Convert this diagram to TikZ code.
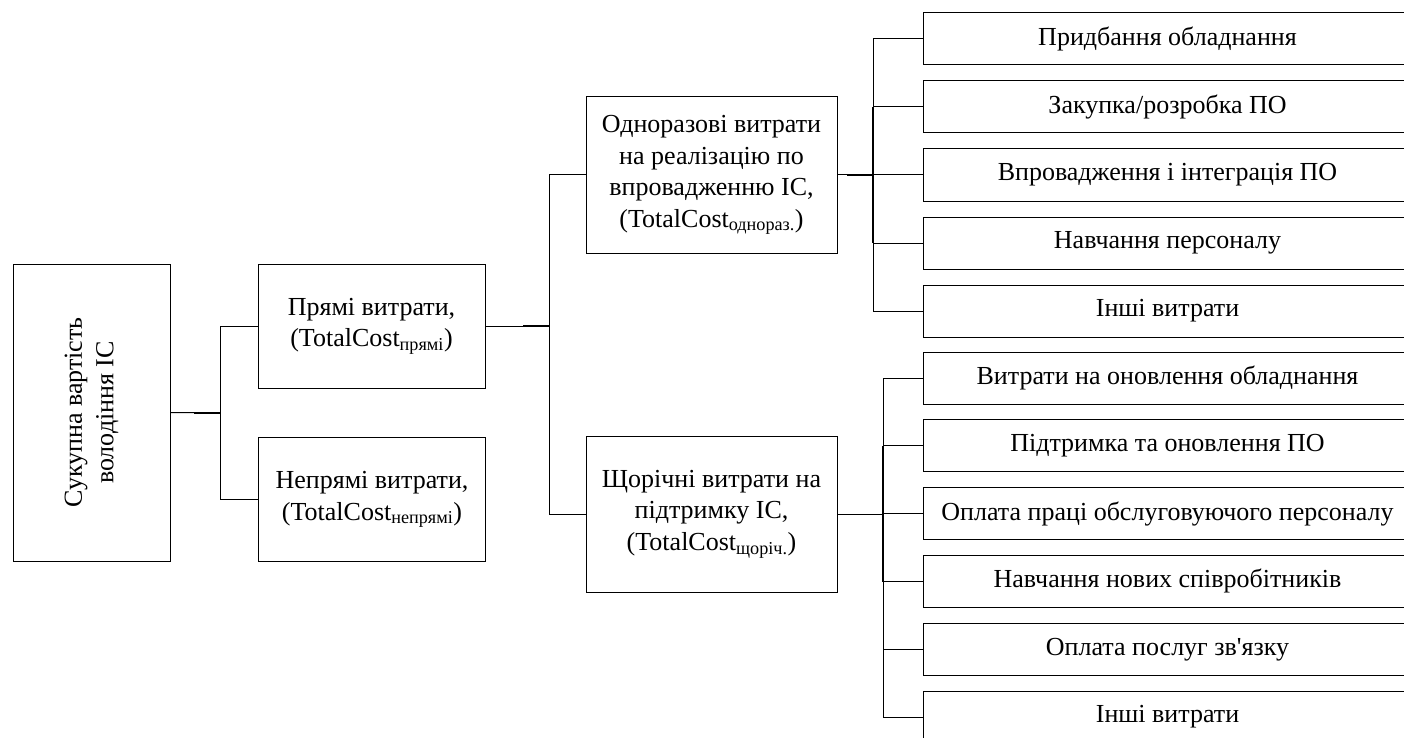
\documentclass[tikz,border=0pt]{standalone}
\usepackage{fontspec}
\setmainfont{Liberation Serif}
\usetikzlibrary{calc}

\begin{document}
\begin{tikzpicture}[x=1pt,y=-1pt,line width=1pt,
  box/.style={draw, align=center, inner sep=2pt, font=\fontsize{26}{31.5}\selectfont},
  leaf/.style={box, minimum width=489pt, minimum height=52pt},
  midbox/.style={box, minimum width=251pt, minimum height=156pt},
  costbox/.style={box, minimum width=227pt, minimum height=124pt},
  jnt/.style={line width=1.8pt}]
  \useasboundingbox (0,0) rectangle (1404,738);
  % Define nodes
  \node[box, rotate=90, minimum width=297pt, minimum height=157pt] (root) at (91.5,412.5) {Сукупна вартість\\володіння ІС};
  \node[costbox] (pryami) at (371.5,326) {Прямі витрати,\\(TotalCost\textsubscript{прямі})};
  \node[costbox] (nepryami) at (372,499.5) {Непрямі витрати,\\(TotalCost\textsubscript{непрямі})};
  \node[midbox] (odnoraz) at (711.5,175) {Одноразові витрати\\на реалізацію по\\впровадженню ІС,\\(TotalCost\textsubscript{однораз.})};
  \node[midbox] (shchorich) at (711.5,514) {Щорічні витрати на\\підтримку ІС,\\(TotalCost\textsubscript{щоріч.})};
  \foreach \name [count=\i] in {Придбання обладнання, Закупка/розробка ПО, Впровадження і інтеграція ПО, Навчання персоналу, Інші витрати}
    \node[leaf] (a\i) at (1167.5,{39+68*(\i-1)}) {\name};
  \foreach \name [count=\i] in {Витрати на оновлення обладнання, Підтримка та оновлення ПО, Оплата праці обслуговуючого персоналу, Навчання нових співробітників, Оплата послуг зв\textquotesingle{}язку, Інші витрати}
    \node[leaf] (c\i) at (1167.5,{378+67.8*(\i-1)}) {\name};

  % Branch points
  \coordinate (b1) at (220,413);
  \coordinate (b2) at (549,326);
  \coordinate (b3) at (873,175);
  \coordinate (b4) at (883,514);

  % Draw connectors
  \draw (root.south) -- (b1);
  \draw (pryami.west) -| (b1);
  \draw (nepryami.west) -| (b1);
  \draw (pryami.east) -- (b2);
  \draw (odnoraz.west) -| (b2);
  \draw (shchorich.west) -| (b2);
  \draw (odnoraz.east) -- (b3);
  \foreach \i in {1,...,5} \draw (a\i.west) -| (b3);
  \draw (shchorich.east) -- (b4);
  \foreach \i in {1,...,6} \draw (c\i.west) -| (b4);

  % heavier joints
  \draw[jnt] (b1) -- ++(-26,0);
  \draw[jnt] (b2) -- ++(-26,0);
  \draw[jnt] (b3) -- ++(-26,0);
  \draw[jnt] (b3) ++(0,-68) -- ++(0,136);
  \draw[jnt] (b4) ++(0,-68) -- ++(0,136);
\end{tikzpicture}
\end{document}
